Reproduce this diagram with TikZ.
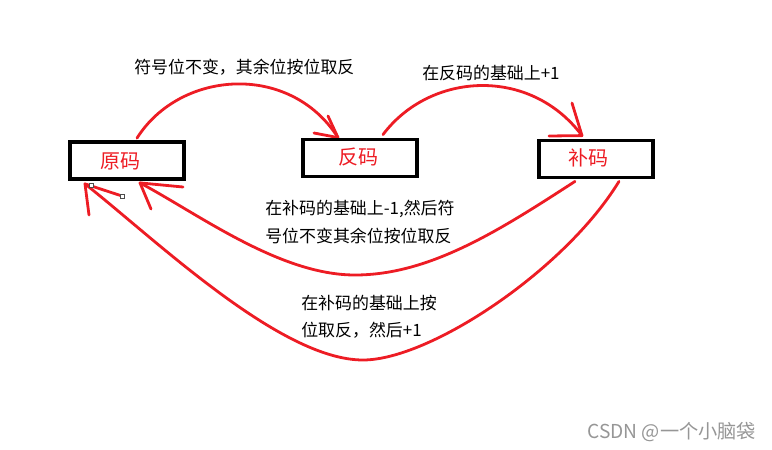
\documentclass[tikz,border=0pt]{standalone}
\usepackage{fontspec}
\setmainfont{Noto Sans CJK SC}
\usetikzlibrary{calc}
\definecolor{pred}{RGB}{237,28,36}
\definecolor{wmgray}{RGB}{150,150,150}
\tikzset{
  codebox/.style={draw=black, line width=2.6pt, minimum width=85.5pt, minimum height=28pt, inner sep=0pt},
  codetext/.style={text=pred, font=\fontsize{15}{18}\selectfont, inner sep=0pt},
  lbl/.style={anchor=west, inner sep=0pt, font=\fontsize{12.7}{15}\selectfont, text=black},
  redline/.style={draw=pred, line width=2.1pt, line cap=round, line join=round},
  handle/.style={draw=black!70, line width=0.6pt, fill=white}
}
\begin{document}
\begin{tikzpicture}[x=0.75pt,y=-0.75pt]
\useasboundingbox (0,0) rectangle (772,450);
% boxes
\node[codebox] (yuan) at (127,160.5) {};
\node[codebox] (fan) at (360,158) {};
\node[codebox] (bu) at (596,159) {};
\node[codetext] (tyuan) at (120,161) {原码};
\node[codetext] (tfan) at (358,157) {反码};
\node[codetext] (tbu) at (588,158) {补码};
% arrow tips
\coordinate (s1) at ($(yuan.north)+(10,-2)$);
\coordinate (e1) at ($(fan.north)+(-22,0)$);
\coordinate (s2) at ($(fan.north)+(23,-3)$);
\coordinate (e2) at ($(bu.north)+(-14,-3)$);
\coordinate (s3) at ($(bu.south)+(-21,2)$);
\coordinate (e3) at ($(yuan.south)+(13,2)$);
\coordinate (s4) at ($(bu.south)+(23,2)$);
\coordinate (e4) at ($(yuan.south)+(-42,3)$);
% head ends
\coordinate (h1a) at (328,116);
\coordinate (h1b) at (314,133);
\coordinate (h2a) at (572,103);
\coordinate (h2b) at (549,136);
\coordinate (h3a) at (183,187);
\coordinate (h3b) at (151,209);
\coordinate (h4a) at (89,215);
\coordinate (h4b) at (122,196);
% connectors
\draw[redline] (s1) .. controls (180,70) and (290,62) .. (e1);
\draw[redline] (h1a) -- (e1) -- (h1b);
\draw[redline] (s2) .. controls (430,72) and (530,66) .. (e2);
\draw[redline] (h2a) -- (e2) -- (h2b);
\draw[redline] (s3) .. controls (500,230) and (430,275) .. (355,275)
                    .. controls (280,275) and (200,215) .. (e3);
\draw[redline] (h3a) -- (e3) -- (h3b);
\draw[redline] (s4) .. controls (565,270) and (430,360) .. (363,360)
                    .. controls (280,360) and (155,239) .. (e4);
\draw[redline] (h4a) -- (e4) -- (h4b);
% selection handles
\draw[handle] (89,183) rectangle (93,187);
\draw[handle] (120,194) rectangle (124,198);
% redraw boxes on top
\node[codebox] at (yuan) {};
\node[codebox] at (fan) {};
\node[codebox] at (bu) {};
% labels
\node[lbl] (l1) at (134,67) {符号位不变，其余位按位取反};
\node[lbl] (l2) at (422,73) {在反码的基础上+1};
\node[lbl] (l3a) at (265,209) {在补码的基础上-1,然后符};
\node[lbl] (l3b) at (265,236) {号位不变其余位按位取反};
\node[lbl] (l4a) at (301,303) {在补码的基础上按};
\node[lbl] (l4b) at (301,330) {位取反，然后+1};
\node[lbl, text=wmgray, font=\fontsize{14.4}{17}\selectfont] (wm) at (587,432) {CSDN @一个小脑袋};
\end{tikzpicture}
\end{document}
